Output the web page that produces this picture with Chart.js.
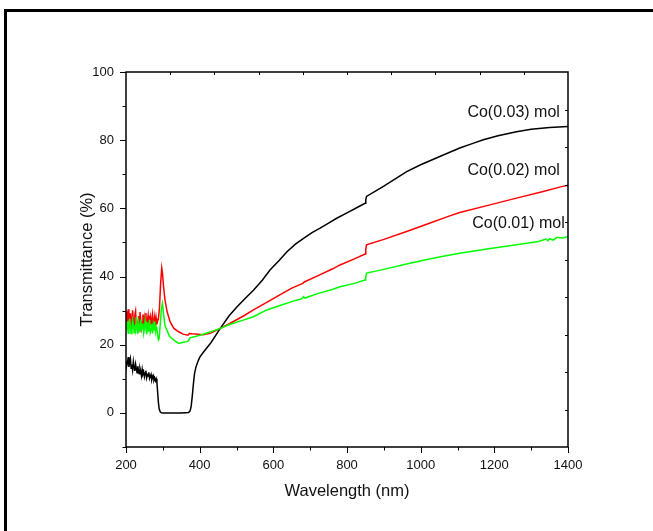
<!DOCTYPE html>
<html>
<head>
<meta charset="utf-8">
<script src="https://cdn.jsdelivr.net/npm/chart.js@4.4.1/dist/chart.umd.min.js"></script>
<style>
  body { margin: 0; background: #fff; }
  canvas { display: block; }
</style>
</head>
<body>
<canvas id="spectra" width="653" height="531"></canvas>
<script>
// values (wavelength nm -> T %)
const wlCo01 = [200,202,204,206,208,210,212,214,216,218,220,222,224,226,228,230,232,234,236,238,240,242,244,246,248,250,252,254,256,258,260,262,264,266,268,270,272,274,276,278,280,282,284,286,288,290,293,296,299,302,306,311,318,329,343,355,365,370,374,380,401,430,456,483,520,546,582,620,660,678,682,686,720,760,781,820,849,851,853,900,962,1020,1079,1106,1180,1260,1320,1340,1345,1350,1360,1370,1385,1400];
const tCo01 = [25.8,24.6,26.9,23.4,24.8,27.6,25.1,23.3,24.9,27.2,26.0,23.5,25.7,24.4,28.1,25.0,23.2,26.4,24.8,23.6,27.4,24.1,25.9,26.3,23.4,24.7,27.0,25.2,23.1,26.5,24.0,25.6,27.3,23.7,24.6,26.1,23.3,25.8,24.3,26.9,23.9,25.1,24.2,22.8,21.4,21.8,26.0,30.5,32.1,29.0,25.5,24.3,22.5,21.4,20.4,20.7,20.9,21.2,22.1,22.2,22.8,23.8,24.8,26.0,27.3,28.2,30.2,31.6,33.0,33.5,34.1,33.7,35.0,36.2,37.0,38.0,39.0,40.0,41.0,42.1,43.7,45.1,46.3,46.8,48.1,49.3,50.3,51.0,50.5,51.1,50.7,51.5,51.3,51.7];

const wlCo02 = [200,202,204,206,208,210,212,214,216,218,220,222,224,226,228,230,232,234,236,238,240,242,244,246,248,250,252,254,256,258,260,262,264,266,268,270,272,274,276,278,280,282,284,286,288,291,294,297,299,302,306,312,320,330,343,355,368,372,380,410,430,456,483,520,546,582,620,650,680,684,720,760,781,820,849,851,853,900,962,1020,1079,1106,1180,1260,1330,1380,1400];
const tCo02 = [29.8,27.2,25.9,30.4,28.1,26.3,29.2,24.8,27.5,30.1,26.7,25.4,28.8,29.9,25.2,27.0,23.7,28.4,26.1,29.6,27.3,25.0,26.6,28.9,24.6,27.8,26.2,29.3,25.5,27.1,28.6,24.9,26.4,28.0,25.7,27.6,29.0,25.9,26.8,28.3,25.4,27.7,26.0,27.1,27.5,31.0,38.0,42.5,41.0,37.0,33.0,29.5,26.7,24.8,23.8,23.1,22.8,23.3,23.2,22.9,23.4,24.8,26.3,28.5,30.2,32.4,34.8,36.6,38.0,38.4,40.2,42.2,43.4,45.2,46.6,48.0,49.3,50.9,53.2,55.5,57.8,58.8,60.8,63.0,64.9,66.3,66.8];

const wlCo03 = [200,202,204,206,208,210,212,214,216,218,220,222,224,226,228,230,232,234,236,238,240,242,244,246,248,250,252,254,256,258,260,262,264,266,268,270,272,274,276,278,280,282,284,286,288,290,293,296,300,320,350,370,374,377,380,383,386,390,395,400,410,430,456,480,501,520,546,570,591,615,637,660,682,705,727,750,772,800,830,849,851,853,900,962,1000,1052,1106,1140,1170,1210,1260,1300,1350,1400];
const tCo03 = [15.2,13.8,14.6,16.4,13.5,14.9,15.9,13.1,14.2,12.6,15.0,13.4,12.3,14.3,13.0,11.8,13.7,12.4,11.5,13.1,12.2,10.9,12.8,11.4,12.0,10.6,11.7,12.4,10.3,11.2,10.8,11.9,10.1,10.7,11.3,9.7,10.4,10.9,9.6,10.2,9.4,10.0,8.8,6.0,3.0,1.2,0.3,0.05,0,0,0,0.1,0.6,2.0,5.0,8.5,11.5,13.5,15.0,16.3,17.8,20.5,24.8,28.5,31.1,33.2,36.0,38.9,41.9,44.6,47.3,49.5,51.2,52.9,54.2,55.7,57.1,58.7,60.4,61.5,62.5,63.5,66.5,70.8,72.8,75.2,77.7,79.0,80.1,81.3,82.5,83.2,83.7,84.0];

const xTicks = [200, 400, 600, 800, 1000, 1200, 1400];
const yTicks = [0, 20, 40, 60, 80, 100];

// curve names and where their captions end (data units)
const curveNames = ['Co(0.01) mol', 'Co(0.02) mol', 'Co(0.03) mol'];
const captionWl = [1391, 1378, 1378];
const captionT = [55.4, 71.1, 88.0];

function pairs(wl, t) {
    return wl.map((w, i) => ({ x: w, y: t[i] }));
}

const frameAndTicks = {
    id: 'frameAndTicks',
    afterDraw(chart) {
        const ctx = chart.ctx;
        const a = chart.chartArea;
        const xs = chart.scales.x;
        const ys = chart.scales.y;
        ctx.save();

        // outer frame of the figure, cut off at right and bottom
        ctx.strokeStyle = '#000';
        ctx.lineWidth = 3;
        ctx.beginPath();
        ctx.moveTo(5.5, chart.height);
        ctx.lineTo(5.5, 10.5);
        ctx.lineTo(chart.width, 10.5);
        ctx.stroke();

        // plot box
        ctx.lineWidth = 1.5;
        ctx.strokeRect(a.left, a.top, a.right - a.left, a.bottom - a.top);

        ctx.lineWidth = 1;
        ctx.beginPath();
        // bottom ticks, outward
        const xStep = (xTicks[1] - xTicks[0]) / 2;
        for (let v = xs.min; v <= xs.max; v += xStep) {
            const px = Math.round(xs.getPixelForValue(v)) + 0.5;
            const len = xTicks.includes(v) ? 6 : 3.5;
            ctx.moveTo(px, a.bottom);
            ctx.lineTo(px, a.bottom + len);
        }
        // left ticks, outward
        const yStep = (yTicks[1] - yTicks[0]) / 2;
        for (let v = ys.min; v <= ys.max; v += yStep) {
            const py = Math.round(ys.getPixelForValue(v)) + 0.5;
            const len = yTicks.includes(v) ? 6 : 3.5;
            ctx.moveTo(a.left, py);
            ctx.lineTo(a.left - len, py);
        }
        // top and right ticks, inward, ten divisions
        for (let i = 1; i < 10; i++) {
            const px = Math.round(xs.getPixelForDecimal(i / 10)) + 0.5;
            ctx.moveTo(px, a.top);
            ctx.lineTo(px, a.top + 3);
            const py = Math.round(ys.getPixelForDecimal(i / 10)) + 0.5;
            ctx.moveTo(a.right, py);
            ctx.lineTo(a.right - 3, py);
        }
        ctx.stroke();

        // curve captions
        ctx.fillStyle = '#111';
        ctx.font = '16px "Liberation Sans", Arial, sans-serif';
        ctx.textAlign = 'right';
        ctx.textBaseline = 'middle';
        curveNames.forEach((name, i) => {
            ctx.fillText(name, xs.getPixelForValue(captionWl[i]), ys.getPixelForValue(captionT[i]));
        });
        ctx.restore();
    }
};

const tickFont = { family: '"Liberation Sans", Arial, sans-serif', size: 13 };
const titleFont = { family: '"Liberation Sans", Arial, sans-serif', size: 16.5 };

new Chart(document.getElementById('spectra').getContext('2d'), {
    type: 'line',
    data: {
        datasets: [
            { label: curveNames[0], data: pairs(wlCo01, tCo01), borderColor: '#00ff00' },
            { label: curveNames[1], data: pairs(wlCo02, tCo02), borderColor: '#ff0000' },
            { label: curveNames[2], data: pairs(wlCo03, tCo03), borderColor: '#000000' }
        ]
    },
    options: {
        responsive: false,
        animation: false,
        events: [],
        layout: { padding: { left: 0, top: 72, right: 85, bottom: 0 } },
        elements: {
            line: { borderWidth: 1.5, tension: 0 },
            point: { radius: 0 }
        },
        plugins: {
            legend: { display: false },
            tooltip: { enabled: false }
        },
        scales: {
            x: {
                type: 'linear',
                min: 200,
                max: 1400,
                afterBuildTicks: s => { s.ticks = xTicks.map(v => ({ value: v })); },
                afterFit: s => { s.height = 84; },
                grid: { display: false, drawTicks: true, tickLength: 5 },
                border: { display: false },
                ticks: { color: '#111', font: tickFont, padding: 6, maxRotation: 0, callback: v => String(v) },
                title: {
                    display: true,
                    text: 'Wavelength (nm)',
                    color: '#111',
                    font: titleFont,
                    padding: { top: 0, bottom: 30 }
                }
            },
            y: {
                min: -10,
                max: 100,
                afterBuildTicks: s => { s.ticks = yTicks.map(v => ({ value: v })); },
                afterFit: s => { s.width = 126; },
                grid: { display: false, drawTicks: true, tickLength: 6 },
                border: { display: false },
                ticks: { color: '#111', font: tickFont, padding: 6, callback: v => String(v) },
                title: {
                    display: true,
                    text: 'Transmittance (%)',
                    color: '#111',
                    font: titleFont,
                    padding: { top: 78, bottom: 0 }
                }
            }
        }
    },
    plugins: [frameAndTicks]
});
</script>
</body>
</html>
